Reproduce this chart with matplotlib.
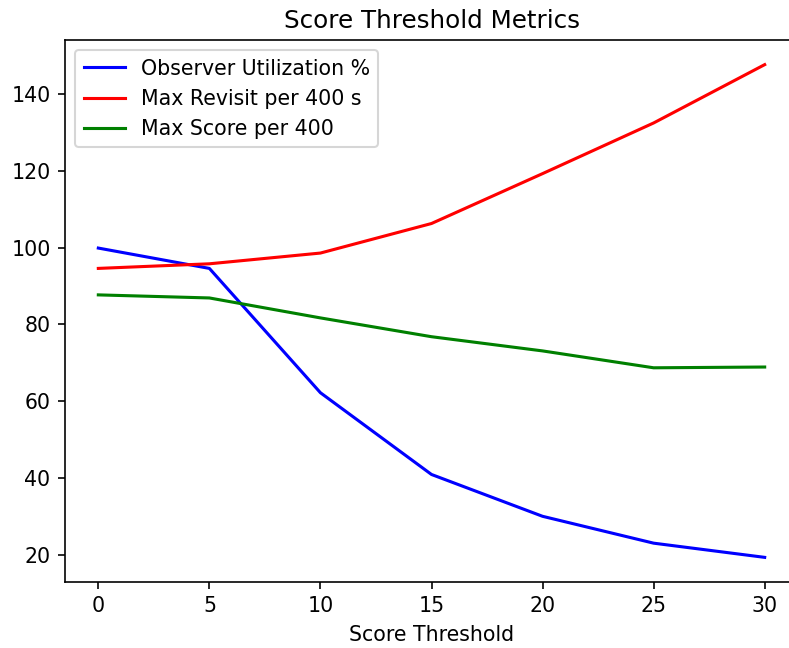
import matplotlib
matplotlib.use("Agg")
import matplotlib.pyplot as plt

# Values
thresholds = [0, 5, 10, 15, 20, 25, 30]
utilization = [99.9, 94.6, 62.2, 40.9, 30.0, 23.0, 19.3]
max_revisit = [94.6, 95.8, 98.6, 106.3, 119.3, 132.5, 147.7]
max_score = [87.7, 86.9, 81.7, 76.8, 73.1, 68.7, 68.9]

# reference looks like it was rendered at a higher dpi, so scale everything
dpi = 148
fig = plt.figure(figsize=(789 / dpi, 648 / dpi), dpi=dpi)
# right spine runs off the edge of the picture in the reference
ax = fig.add_axes([65 / 789, 1 - 582 / 648, 733 / 789, (582 - 40) / 648])

ax.plot(thresholds, utilization, color="blue", label="Observer Utilization %")
ax.plot(thresholds, max_revisit, color="red", label="Max Revisit per 400 s")
ax.plot(thresholds, max_score, color="green", label="Max Score per 400")

ax.set_title("Score Threshold Metrics")
ax.set_xlabel("Score Threshold")
ax.legend(loc="upper left")

fig.savefig("out.png", dpi=dpi)
